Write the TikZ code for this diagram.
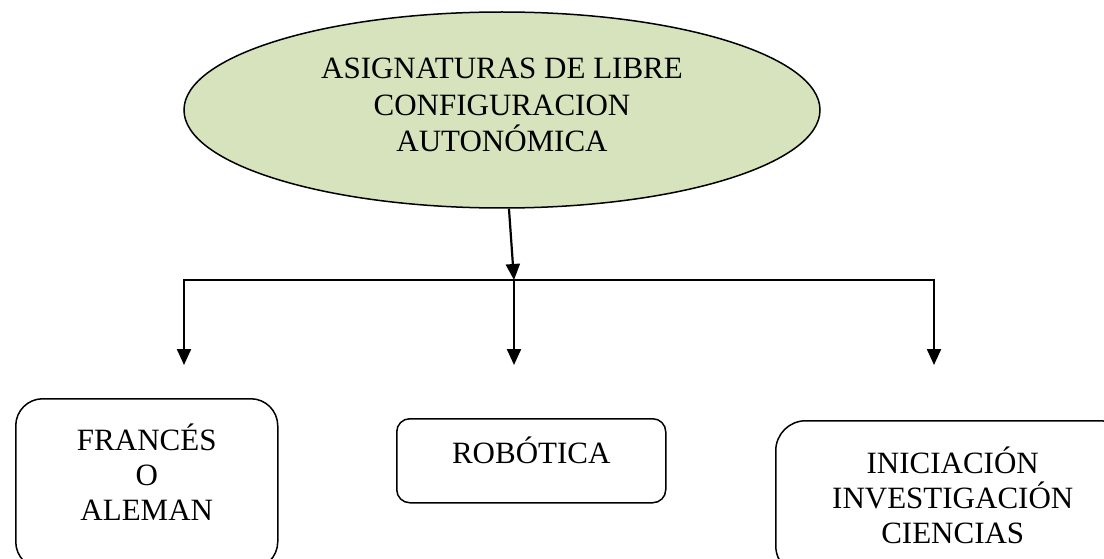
\documentclass[tikz,border=0pt]{standalone}
\usepackage{fontspec}
\setmainfont{Liberation Serif}
\usepackage{xcolor}
\usepackage{tikz}
\usetikzlibrary{arrows.meta}
\usetikzlibrary{positioning}
\usetikzlibrary{shapes.geometric}

\definecolor{sage}{HTML}{D6E3BC}

\begin{document}
\begin{tikzpicture}
[
	x = 1pt, y = -1pt,
	topic/.style = {ellipse, draw, fill = sage, line width = 1.5pt, minimum width = 636pt, minimum height = 196pt, inner sep = 0pt, align = center, font = \fontsize{31pt}{36.5pt}\selectfont, text height = 100pt, text depth = 16pt},
	course/.style = {rectangle, draw, line width = 1.5pt, inner sep = 0pt, align = center, anchor = north west, font = \fontsize{31pt}{35pt}\selectfont},
	link/.style = {-{Triangle[length = 16pt, width = 14pt]}, line width = 2.2pt},
	wire/.style = {line width = 2.2pt, line cap = rect},
]

	\useasboundingbox (0,0) rectangle (1104,559);
	\clip (0,0) rectangle (1104,559);

	% root
	\node (root) [topic] at (502,110) {ASIGNATURAS DE LIBRE\\CONFIGURACION\\AUTONÓMICA};

	% branch points
	\coordinate (split) at (514,280);
	\coordinate (west) at (184,280);
	\coordinate (east) at (934,280);
	%
	\coordinate (tipA) at (184,365);
	\coordinate (tipB) at (514,365);
	\coordinate (tipC) at (934,365);

	% subjects
	\node (lang) [course, rounded corners = 27pt, minimum width = 262pt, text height = 122pt, text depth = 48pt] at (15,398) {FRANCÉS\\O\\ALEMAN};
	\node (robo) [course, rounded corners = 13pt, minimum width = 269pt, text height = 45pt, text depth = 39pt] at (396,418) {ROBÓTICA};
	\node (inve) [course, rounded corners = 30pt, minimum width = 354pt, text height = 123pt, text depth = 32pt] at (775,420) {INICIACIÓN\\INVESTIGACIÓN\\CIENCIAS};

	% paths
	\draw [link] (root) -- (split);
	\draw [wire] (west) -- (east);
	%
	\draw [link] (west) -- (tipA);
	\draw [link] (split) -- (tipB);
	\draw [link] (east) -- (tipC);

\end{tikzpicture}
\end{document}
